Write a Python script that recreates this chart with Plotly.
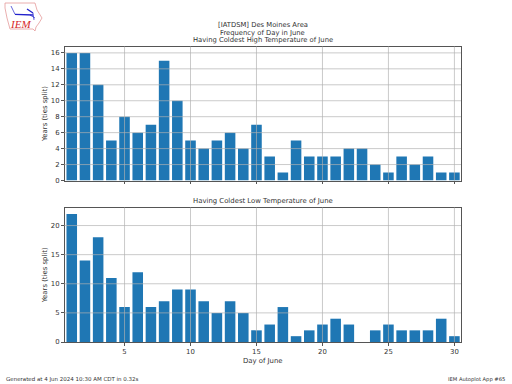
import plotly.graph_objects as go

days = list(range(1, 31))
high_counts = [16,16,12,5,8,6,7,15,10,5,4,5,6,4,7,3,1,5,3,3,3,4,4,2,1,3,2,3,1,1]
low_counts = [22,14,18,11,6,12,6,7,9,9,7,5,7,5,2,3,6,1,2,3,4,3,0,2,3,2,2,2,4,1]
x_ticks = [5, 10, 15, 20, 25, 30]
high_ticks = [0, 2, 4, 6, 8, 10, 12, 14, 16]
low_ticks = [0, 5, 10, 15, 20]
title_lines = ["[IATDSM] Des Moines Area", "Frequency of Day in June", "Having Coldest High Temperature of June"]
title_low = "Having Coldest Low Temperature of June"
footer_left = "Generated at 4 Jun 2024 10:30 AM CDT in 0.32s"
footer_right = "IEM Autoplot App #65"

W, H = 512, 384
L, R = 64.5, 461.0
T1, B1 = 46.5, 180.5
T2, B2 = 207.5, 342.0
BLUE = "#1f77b4"
GRID = "rgba(176,176,176,0.85)"
DARK = "#333333"
FONT = "DejaVu Sans"
SIZE = 6.9

def px(v): return v / W
def py(v): return 1 - v / H

fig = go.Figure()
fig.add_bar(x=days, y=high_counts, width=0.8, marker=dict(color=BLUE, line_width=0), xaxis="x", yaxis="y")
fig.add_bar(x=days, y=low_counts, width=0.8, marker=dict(color=BLUE, line_width=0), xaxis="x2", yaxis="y2")

axis_common = dict(showline=True, linecolor="#555555", linewidth=1, mirror=True, ticks="outside",
                   ticklen=2.5, tickwidth=0.8, tickcolor="#555555", showgrid=False, zeroline=False,
                   automargin=False, tickfont=dict(size=SIZE, color=DARK, family=FONT))
title_font = dict(size=SIZE, color=DARK, family=FONT)

fig.update_layout(
    width=W, height=H, autosize=False, margin=dict(l=0, r=0, t=0, b=0, pad=0, autoexpand=False),
    paper_bgcolor="white", plot_bgcolor="white", showlegend=False,
    font=dict(family=FONT, size=SIZE, color=DARK),
    xaxis=dict(domain=[px(L), px(R)], range=[0.45, 30.5], tickvals=x_ticks, showticklabels=False, anchor="y", **axis_common),
    yaxis=dict(domain=[py(B1), py(T1)], range=[0, 16.8], tickvals=high_ticks, anchor="x",
               title=dict(text="Years (ties split)", font=title_font, standoff=2), **axis_common),
    xaxis2=dict(domain=[px(L), px(R)], range=[0.45, 30.5], tickvals=x_ticks, anchor="y2",
                title=dict(text="Day of June", font=title_font, standoff=3), **axis_common),
    yaxis2=dict(domain=[py(B2), py(T2)], range=[0, 23.1], tickvals=low_ticks, anchor="x2",
                title=dict(text="Years (ties split)", font=title_font, standoff=2), **axis_common),
)

# Grid sits above the bars in the reference, so it is drawn as shapes at the tick values
shapes = []
for xr, yr, yt in (("x", "y", high_ticks), ("x2", "y2", low_ticks)):
    for t in x_ticks:
        shapes.append(dict(type="line", xref=xr, yref=yr + " domain", x0=t, x1=t, y0=0, y1=1,
                           line=dict(color=GRID, width=0.8), layer="above"))
    for t in yt[1:]:
        shapes.append(dict(type="line", xref=xr + " domain", yref=yr, x0=0, x1=1, y0=t, y1=t,
                           line=dict(color=GRID, width=0.8), layer="above"))

# IEM logo: state outline and network glyph
outline = [(5,3),(35,3),(37,10),(42,18),(39,23),(36,27),(35,31),(33,29),(10,29),(7,18),(5,8)]
path = "M " + " L ".join(f"{px(a)},{py(b)}" for a, b in outline) + " Z"
shapes.append(dict(type="path", xref="paper", yref="paper", path=path,
                   line=dict(color="#e59a9a", width=0.8), fillcolor="white"))
for (a, b, c, d, w) in [(15,14.3,33,15,1.3),(11,6,15,14.3,0.7),(27,9,33,13,1.3),(33,13,34,20,0.7),(30,15,35,18,0.7)]:
    shapes.append(dict(type="line", xref="paper", yref="paper", x0=px(a), y0=py(b), x1=px(c), y1=py(d),
                       line=dict(color="#2222cc", width=w)))
fig.update_layout(shapes=shapes)

def note(text, x, y, xa="center", ya="middle", size=SIZE, color=DARK, family=FONT, align="center"):
    fig.add_annotation(text=text, xref="paper", yref="paper", x=px(x), y=py(y), xanchor=xa, yanchor=ya,
                       showarrow=False, align=align, font=dict(size=size, color=color, family=family))

for line, y in zip(title_lines, (25, 32.8, 40)):
    note(line, 262.5, y, size=6.8)
note(title_low, 262.5, 200.5)
note(footer_left, 3.5, 379.5, xa="left", size=5.5)
note(footer_right, 507, 379.5, xa="right", size=5.2)
note("<i>IEM</i>", 20, 24, size=11, color="#d62728", family="Liberation Serif")

fig.write_html("out.html", config={"displayModeBar": False},
               post_script="document.body.style.margin='0';document.body.style.overflow='hidden';")
